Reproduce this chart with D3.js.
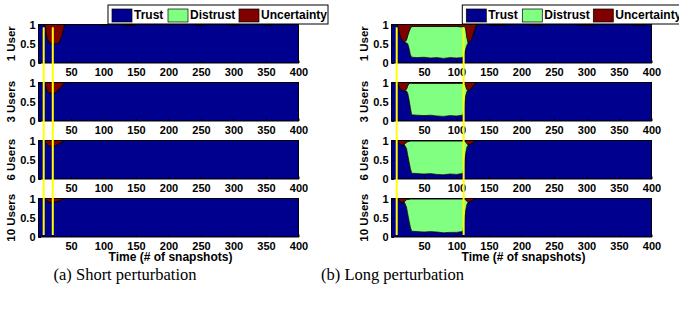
<!DOCTYPE html>
<html>
<head>
<meta charset="utf-8">
<script src="https://cdn.jsdelivr.net/npm/d3@7"></script>
<style>
  body { margin: 0; background: #fff; }
  svg { display: block; }
  .tick text { font-family: "Liberation Sans", Arial, sans-serif; font-weight: bold; font-size: 11px; fill: #000; }
</style>
</head>
<body>
<div id="chart"></div>
<script>
// ---- data ----
var keys = ["Trust", "Distrust", "Uncertainty"];
var colors = ["#00008f", "#80ff80", "#800000"];
var userLabels = ["1 User", "3 Users", "6 Users", "10 Users"];
var xTicks = [50, 100, 150, 200, 250, 300, 350, 400];
var yTicks = [0, 0.5, 1];

// (a) short perturbation
var tShort = [0, 8, 10, 11, 13, 16, 20, 25, 30, 33, 36, 38, 40, 95, 100, 105, 130, 137, 144, 150, 240, 248, 256, 292, 300, 308, 345, 352, 359, 400];
var shortPerturb = [8, 22];
var zeroShort = [0,0,0,0,0,0,0,0,0,0,0,0,0,0,0,0,0,0,0,0,0,0,0,0,0,0,0,0,0,0];

var short1Trust = [1,1,1,0.88,0.66,0.55,0.51,0.5,0.51,0.57,0.72,0.86,1,1,0.97,1,1,0.97,0.975,1,1,0.975,1,1,0.975,1,1,0.98,1,1];
var short1Unc   = [0,0,0,0.12,0.34,0.45,0.49,0.5,0.49,0.43,0.28,0.14,0,0,0.03,0,0,0.03,0.025,0,0,0.025,0,0,0.025,0,0,0.02,0,0];
var short3Trust = [1,1,1,0.92,0.8,0.74,0.72,0.73,0.8,0.85,0.9,0.95,1,1,1,1,1,1,1,1,1,1,1,1,1,1,1,1,1,1];
var short3Unc   = [0,0,0,0.08,0.2,0.26,0.28,0.27,0.2,0.15,0.1,0.05,0,0,0,0,0,0,0,0,0,0,0,0,0,0,0,0,0,0];
var short6Trust = [1,1,1,0.96,0.9,0.86,0.85,0.86,0.9,0.93,0.96,0.98,1,1,1,1,1,1,1,1,1,1,1,1,1,1,1,1,1,1];
var short6Unc   = [0,0,0,0.04,0.1,0.14,0.15,0.14,0.1,0.07,0.04,0.02,0,0,0,0,0,0,0,0,0,0,0,0,0,0,0,0,0,0];
var short10Trust = [1,1,1,0.97,0.93,0.91,0.9,0.91,0.93,0.95,0.97,0.99,1,1,1,1,1,1,1,1,1,1,1,1,1,1,1,1,1,1];
var short10Unc   = [0,0,0,0.03,0.07,0.09,0.1,0.09,0.07,0.05,0.03,0.01,0,0,0,0,0,0,0,0,0,0,0,0,0,0,0,0,0,0];

// (b) long perturbation
var tLong = [0, 8, 10, 12, 14, 17, 20, 23, 25, 27, 29, 31, 40, 50, 60, 70, 80, 90, 100, 108, 110, 112, 114, 116, 118, 121, 124, 127, 130, 133, 150, 165, 180, 215, 224, 233, 285, 300, 315, 370, 380, 390, 400];
var longPerturb = [8, 111];

var long1Trust = [1,1,0.95,0.8,0.68,0.58,0.54,0.52,0.5,0.38,0.22,0.15,0.14,0.15,0.13,0.14,0.12,0.14,0.13,0.14,0.15,0.25,0.36,0.47,0.52,0.56,0.66,0.82,0.97,1,1,0.97,1,1,0.975,1,1,0.97,1,1,0.975,1,1];
var long1Dist  = [0,0,0,0,0,0,0,0.08,0.22,0.44,0.68,0.8,0.81,0.8,0.82,0.81,0.83,0.81,0.82,0.8,0.8,0.68,0.55,0.2,0,0,0,0,0,0,0,0,0,0,0,0,0,0,0,0,0,0,0];
var long1Unc   = [0,0,0.05,0.2,0.32,0.42,0.46,0.4,0.28,0.18,0.1,0.05,0.05,0.05,0.05,0.05,0.05,0.05,0.05,0.06,0.05,0.07,0.09,0.33,0.48,0.44,0.34,0.18,0.03,0,0,0.03,0,0,0.025,0,0,0.03,0,0,0.025,0,0];

var long3Trust = [1,1,0.97,0.88,0.82,0.79,0.78,0.78,0.72,0.55,0.35,0.16,0.15,0.14,0.15,0.13,0.12,0.14,0.13,0.15,0.15,0.4,0.65,0.77,0.78,0.82,0.88,0.94,0.99,1,1,1,1,1,1,1,1,1,1,1,1,1,1];
var long3Dist  = [0,0,0,0,0,0,0,0.05,0.2,0.42,0.63,0.82,0.83,0.84,0.83,0.85,0.86,0.84,0.85,0.83,0.83,0.56,0.27,0.05,0,0,0,0,0,0,0,0,0,0,0,0,0,0,0,0,0,0,0];
var long3Unc   = [0,0,0.03,0.12,0.18,0.21,0.22,0.17,0.08,0.03,0.02,0.02,0.02,0.02,0.02,0.02,0.02,0.02,0.02,0.02,0.02,0.04,0.08,0.18,0.22,0.18,0.12,0.06,0.01,0,0,0,0,0,0,0,0,0,0,0,0,0,0];

var long6Trust = [1,1,0.98,0.94,0.9,0.88,0.88,0.8,0.62,0.45,0.28,0.15,0.14,0.13,0.14,0.12,0.11,0.13,0.12,0.14,0.15,0.42,0.66,0.83,0.88,0.9,0.93,0.97,1,1,1,1,1,1,1,1,1,1,1,1,1,1,1];
var long6Dist  = [0,0,0,0,0,0,0.02,0.16,0.35,0.53,0.71,0.84,0.85,0.86,0.85,0.87,0.88,0.86,0.87,0.85,0.84,0.56,0.31,0.09,0,0,0,0,0,0,0,0,0,0,0,0,0,0,0,0,0,0,0];
var long6Unc   = [0,0,0.02,0.06,0.1,0.12,0.1,0.04,0.03,0.02,0.01,0.01,0.01,0.01,0.01,0.01,0.01,0.01,0.01,0.01,0.01,0.02,0.03,0.08,0.12,0.1,0.07,0.03,0,0,0,0,0,0,0,0,0,0,0,0,0,0,0];

var long10Trust = [1,1,0.985,0.95,0.92,0.9,0.9,0.78,0.6,0.42,0.26,0.15,0.14,0.13,0.14,0.13,0.11,0.12,0.12,0.14,0.15,0.42,0.68,0.85,0.9,0.92,0.95,0.98,1,1,1,1,1,1,1,1,1,1,1,1,1,1,1];
var long10Dist  = [0,0,0,0,0,0,0.02,0.19,0.38,0.56,0.73,0.84,0.85,0.86,0.85,0.86,0.88,0.87,0.87,0.85,0.84,0.56,0.29,0.08,0,0,0,0,0,0,0,0,0,0,0,0,0,0,0,0,0,0,0];
var long10Unc   = [0,0,0.015,0.05,0.08,0.1,0.08,0.03,0.02,0.02,0.01,0.01,0.01,0.01,0.01,0.01,0.01,0.01,0.01,0.01,0.01,0.02,0.03,0.07,0.1,0.08,0.05,0.02,0,0,0,0,0,0,0,0,0,0,0,0,0,0,0];

// ---- layout ----
var W = 679, H = 312;
var plotW = 260, plotH = 38.5, firstTop = 24.5, rowStep = 58;
var sansFont = '"Liberation Sans", Arial, sans-serif';

var panels = [
  { left: 38.5, t: tShort, perturb: shortPerturb, legendX: 108, caption: "(a) Short perturbation", captionX: 125,
    rows: [[short1Trust, zeroShort, short1Unc], [short3Trust, zeroShort, short3Unc],
           [short6Trust, zeroShort, short6Unc], [short10Trust, zeroShort, short10Unc]] },
  { left: 391.5, t: tLong, perturb: longPerturb, legendX: 462.3, caption: "(b) Long perturbation", captionX: 392.5,
    rows: [[long1Trust, long1Dist, long1Unc], [long3Trust, long3Dist, long3Unc],
           [long6Trust, long6Dist, long6Unc], [long10Trust, long10Dist, long10Unc]] }
];

var svg = d3.select("#chart").append("svg")
    .attr("width", W)
    .attr("height", H);

var stack = d3.stack().keys(keys);

panels.forEach(function (p, pi) {
    var x = d3.scaleLinear().domain([0, 400]).range([p.left, p.left + plotW]);

    p.rows.forEach(function (r, ri) {
        var top = firstTop + ri * rowStep;
        var y = d3.scaleLinear().domain([0, 1]).range([top + plotH, top]);

        var table = p.t.map(function (t, i) {
            return { t: t, Trust: r[0][i], Distrust: r[1][i], Uncertainty: r[2][i] };
        });
        var layers = stack(table);

        var clipId = "clip" + pi + "_" + ri;
        svg.append("clipPath").attr("id", clipId)
            .append("rect")
            .attr("x", p.left).attr("y", top)
            .attr("width", plotW).attr("height", plotH);

        var area = d3.area()
            .x(function (d) { return x(d.data.t); })
            .y0(function (d) { return y(d[0]); })
            .y1(function (d) { return y(d[1]); });

        svg.append("g")
            .attr("clip-path", "url(#" + clipId + ")")
            .selectAll("path")
            .data(layers)
            .enter().append("path")
            .attr("d", area)
            .attr("fill", function (d, i) { return colors[i]; })
            .attr("stroke", "#000")
            .attr("stroke-width", 0.7);

        // axes
        var gx = svg.append("g")
            .attr("transform", "translate(0," + (top + plotH) + ")")
            .call(d3.axisBottom(x).tickValues(xTicks).tickSize(-2.5).tickPadding(5.5));
        gx.select(".domain").remove();
        gx.selectAll(".tick line").attr("stroke", "#000");

        var gy = svg.append("g")
            .attr("transform", "translate(" + p.left + ",0)")
            .call(d3.axisLeft(y).tickValues(yTicks).tickSize(-2.5).tickPadding(3)
                .tickFormat(function (d) { return String(d); }));
        gy.select(".domain").remove();
        gy.selectAll(".tick line").attr("stroke", "#000");

        svg.append("rect")
            .attr("x", p.left).attr("y", top)
            .attr("width", plotW).attr("height", plotH)
            .attr("fill", "none")
            .attr("stroke", "#000")
            .attr("stroke-width", 1);

        svg.append("text")
            .attr("transform", "translate(" + (p.left - 28) + "," + (top + plotH / 2) + ") rotate(-90)")
            .attr("text-anchor", "middle")
            .attr("dominant-baseline", "central")
            .style("font-family", sansFont)
            .style("font-weight", "bold")
            .style("font-size", "11.5px")
            .text(userLabels[ri]);
    });

    // x axis title
    svg.append("text")
        .attr("x", p.left + plotW / 2 + 2)
        .attr("y", 261)
        .attr("text-anchor", "middle")
        .style("font-family", sansFont)
        .style("font-weight", "bold")
        .style("font-size", "12px")
        .text("Time (# of snapshots)");

    // perturbation markers
    svg.selectAll(null)
        .data(p.perturb)
        .enter().append("line")
        .attr("x1", function (d) { return x(d); })
        .attr("x2", function (d) { return x(d); })
        .attr("y1", 27.3)
        .attr("y2", 235)
        .attr("stroke", "#ffff00")
        .attr("stroke-width", 2);

    // legend
    var lg = svg.append("g").attr("transform", "translate(" + p.legendX + ",5)");
    lg.append("rect")
        .attr("width", 220).attr("height", 19)
        .attr("fill", "#fff").attr("stroke", "#000").attr("stroke-width", 1);
    var itemX = [4, 60, 131];
    keys.forEach(function (k, i) {
        lg.append("rect")
            .attr("x", itemX[i]).attr("y", 4)
            .attr("width", 20).attr("height", 13)
            .attr("fill", colors[i]).attr("stroke", "#000").attr("stroke-width", 0.7);
        lg.append("text")
            .attr("x", itemX[i] + 22).attr("y", 14.3)
            .style("font-family", sansFont)
            .style("font-weight", "bold")
            .style("font-size", "12px")
            .text(k);
    });

    // caption
    svg.append("text")
        .attr("x", p.captionX)
        .attr("y", 280)
        .attr("text-anchor", "middle")
        .style("font-family", '"Liberation Serif", "Times New Roman", serif')
        .style("font-size", "16.5px")
        .text(p.caption);
});
</script>
</body>
</html>
